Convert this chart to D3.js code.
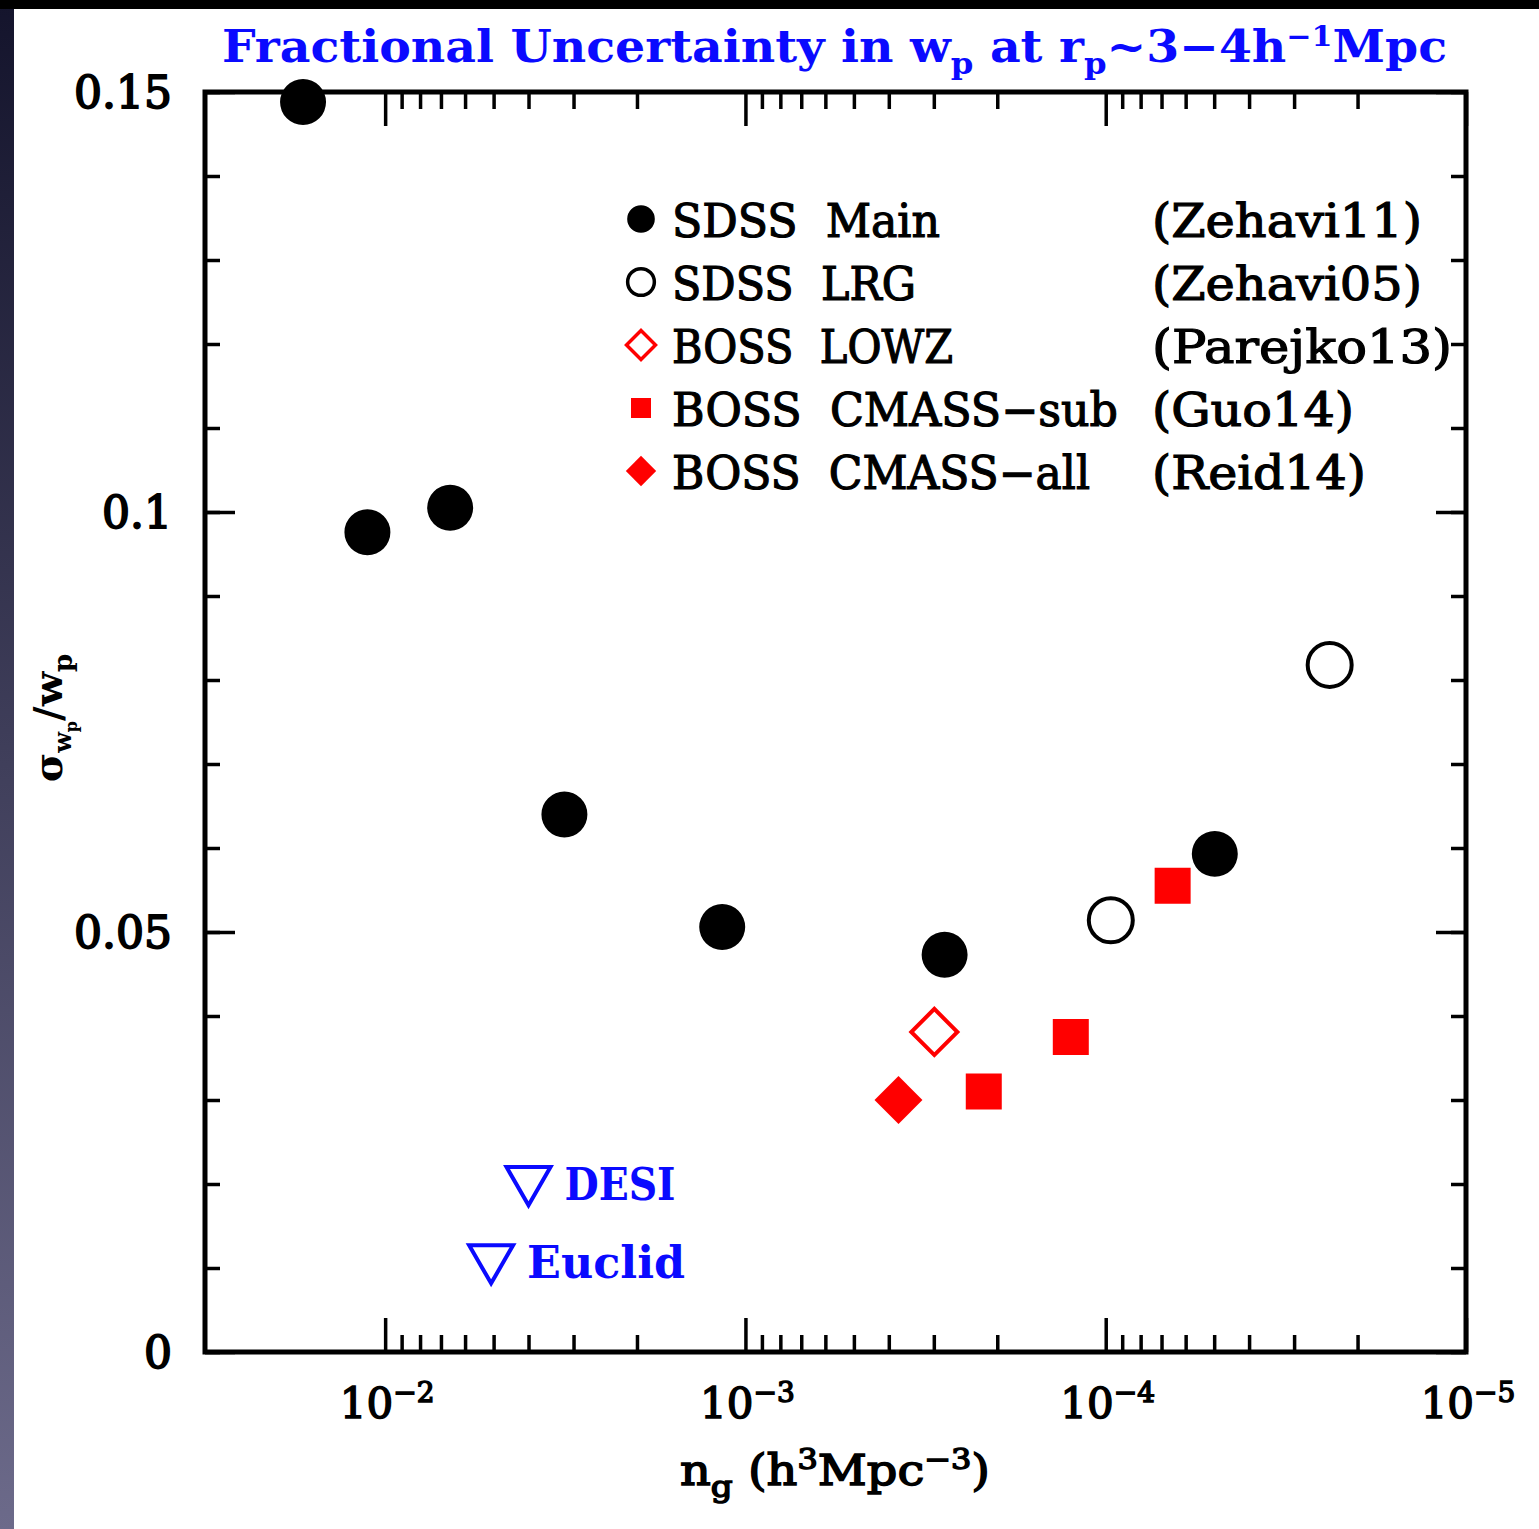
<!DOCTYPE html>
<html>
<head>
<meta charset="utf-8">
<script src="https://cdn.jsdelivr.net/npm/d3@7"></script>
<style>
  body { margin: 0; background: #fff; }
  svg { display: block; }
  text { font-family: "DejaVu Serif", serif; }
</style>
</head>
<body>
<svg id="chart" width="1539" height="1529"></svg>
<script>
// ---- data ----
var mainN   = [0.0169, 0.0112, 0.0066, 0.00318, 0.00116, 2.80e-4, 4.98e-5];
var mainErr = [0.1488, 0.0976, 0.1005, 0.0640, 0.0506, 0.0473, 0.0593];
var lrgN    = [9.68e-5, 2.39e-5];
var lrgErr  = [0.0514, 0.0818];
var lowzN   = [2.99e-4];
var lowzErr = [0.0381];
var subN    = [2.18e-4, 1.25e-4, 6.52e-5];
var subErr  = [0.0310, 0.0375, 0.0555];
var allN    = [3.76e-4];
var allErr  = [0.0300];
var futureNames = ["DESI", "Euclid"];
var futureN     = [4.0e-3, 5.08e-3];
var futureErr   = [0.0205, 0.0112];

var legendNames = ["SDSS  Main", "SDSS  LRG", "BOSS  LOWZ", "BOSS  CMASS\u2212sub", "BOSS  CMASS\u2212all"];
var legendRefs  = ["(Zehavi11)", "(Zehavi05)", "(Parejko13)", "(Guo14)", "(Reid14)"];
var legendKinds = ["mainDot", "lrgRing", "lowzDiamond", "subSquare", "allDiamond"];

var yTicks = [0, 0.05, 0.1, 0.15];
var yMinor = d3.range(0, 0.1501, 0.01);
var xExps  = [-2, -3, -4, -5];

// text widths measured on the original (layout only)
var nameWidths   = [268, 244, 281, 446, 418];
var refWidths    = [270, 270, 300, 202, 214];
var futureWidths = [111, 158];

var RED = "#ff0000", BLUE = "#0a0aff";

var svg = d3.select("#chart");

// dark slide edges around the picture
var grad = svg.append("defs").append("linearGradient")
  .attr("id", "edge").attr("x1", 0).attr("y1", 0).attr("x2", 0).attr("y2", 1);
grad.append("stop").attr("offset", "0%").attr("stop-color", "#14142c");
grad.append("stop").attr("offset", "100%").attr("stop-color", "#6c6a8a");
svg.append("rect").attr("x", 0).attr("y", 0).attr("width", 14).attr("height", 1529).attr("fill", "url(#edge)");
svg.append("rect").attr("x", 0).attr("y", 0).attr("width", 1539).attr("height", 9).attr("fill", "#000");

// ---- scales ----
var x = d3.scaleLog().domain([Math.pow(10, -1.5), 1e-5]).range([205, 1466]);
var y = d3.scaleLinear().domain([0, 0.15]).range([1352, 92]);

var xMajor = xExps.map(function (e) { return Math.pow(10, e); });
var xMinor = [];
[-3, -4, -5].forEach(function (e) {
  for (var k = 2; k <= 9; k++) xMinor.push(k * Math.pow(10, e));
});

function ticks(axisFn, scale, values, size, tr) {
  svg.append("g").attr("transform", tr)
    .call(axisFn(scale).tickValues(values).tickSize(-size).tickFormat(""))
    .call(function (g) { g.select(".domain").remove(); })
    .selectAll("line").attr("stroke", "#000").attr("stroke-width", 3.5);
}
ticks(d3.axisBottom, x, xMajor, 34, "translate(0,1352)");
ticks(d3.axisBottom, x, xMinor, 17, "translate(0,1352)");
ticks(d3.axisTop, x, xMajor, 34, "translate(0,92)");
ticks(d3.axisTop, x, xMinor, 17, "translate(0,92)");
ticks(d3.axisLeft, y, yTicks, 30, "translate(205,0)");
ticks(d3.axisLeft, y, yMinor, 15, "translate(205,0)");
ticks(d3.axisRight, y, yTicks, 30, "translate(1466,0)");
ticks(d3.axisRight, y, yMinor, 15, "translate(1466,0)");

svg.append("rect").attr("x", 205).attr("y", 92).attr("width", 1261).attr("height", 1260)
  .attr("fill", "none").attr("stroke", "#000").attr("stroke-width", 5);

// tick labels
svg.append("g").selectAll("text").data(yTicks).join("text")
  .attr("x", 172).attr("y", function (d) { return y(d) + 16; })
  .attr("text-anchor", "end").attr("font-size", 44)
  .attr("stroke", "#000").attr("stroke-width", 1.8)
  .text(d3.format("~g"));

var xl = svg.append("g").selectAll("text").data(xExps).join("text")
  .attr("x", function (d) { return x(Math.pow(10, d)) + 2; }).attr("y", 1418)
  .attr("text-anchor", "middle").attr("font-size", 42)
  .attr("stroke", "#000").attr("stroke-width", 1.5);
xl.append("tspan").text("10");
xl.append("tspan").attr("dy", -16).attr("font-size", 28).text(function (d) { return "\u2212" + (-d); });

// title
var t = svg.append("text").attr("x", 222).attr("y", 62).attr("fill", BLUE)
  .attr("font-size", 44).attr("font-weight", "bold")
  .attr("textLength", 1225).attr("lengthAdjust", "spacingAndGlyphs");
t.append("tspan").text("Fractional Uncertainty in w");
t.append("tspan").attr("dy", 12).attr("font-size", 30).text("p");
t.append("tspan").attr("dy", -12).text(" at r");
t.append("tspan").attr("dy", 12).attr("font-size", 30).text("p");
t.append("tspan").attr("dy", -12).text("~3\u22124h");
t.append("tspan").attr("dy", -16).attr("font-size", 28).text("\u22121");
t.append("tspan").attr("dy", 16).text("Mpc");

// axis labels
var xt = svg.append("text").attr("x", 835).attr("y", 1485).attr("text-anchor", "middle")
  .attr("font-size", 42).attr("stroke", "#000").attr("stroke-width", 1.5)
  .attr("textLength", 310).attr("lengthAdjust", "spacingAndGlyphs");
xt.append("tspan").text("n");
xt.append("tspan").attr("dy", 12).attr("font-size", 30).text("g");
xt.append("tspan").attr("dy", -12).text(" (h");
xt.append("tspan").attr("dy", -16).attr("font-size", 28).text("3");
xt.append("tspan").attr("dy", 16).text("Mpc");
xt.append("tspan").attr("dy", -16).attr("font-size", 28).text("\u22123");
xt.append("tspan").attr("dy", 16).text(")");

var yt = svg.append("text").attr("transform", "translate(62,718) rotate(-90)")
  .attr("text-anchor", "middle").attr("font-size", 40).attr("font-weight", "bold");
yt.append("tspan").text("\u03c3");
yt.append("tspan").attr("dy", 9).attr("font-size", 24).text("w");
yt.append("tspan").attr("dy", 6).attr("font-size", 16).text("p");
yt.append("tspan").attr("dy", -15).text("/w");
yt.append("tspan").attr("dy", 10).attr("font-size", 26).text("p");

// ---- markers ----
var sym = {
  mainDot:     { type: d3.symbolCircle,   fill: "#000", stroke: "none", rot: 0 },
  lrgRing:     { type: d3.symbolCircle,   fill: "#fff", stroke: "#000", rot: 0 },
  lowzDiamond: { type: d3.symbolSquare,   fill: "#fff", stroke: RED,    rot: 45 },
  subSquare:   { type: d3.symbolSquare,   fill: RED,    stroke: "none", rot: 0 },
  allDiamond:  { type: d3.symbolSquare,   fill: RED,    stroke: "none", rot: 45 },
  future:      { type: d3.symbolTriangle, fill: "none", stroke: BLUE,   rot: 180 }
};
var bigSize = { mainDot: 1660, lrgRing: 1520, lowzDiamond: 1060, subSquare: 1296, allDiamond: 1150, future: 838 };
var smallSize = { mainDot: 600, lrgRing: 560, lowzDiamond: 420, subSquare: 400, allDiamond: 460 };

function plot(kind, ns, errs, size) {
  var s = sym[kind];
  svg.append("g").selectAll("path").data(ns).join("path")
    .attr("d", d3.symbol().type(s.type).size(size))
    .attr("transform", function (d, i) {
      return "translate(" + x(d) + "," + y(errs[i]) + ") rotate(" + s.rot + ")";
    })
    .attr("fill", s.fill).attr("stroke", s.stroke).attr("stroke-width", 4);
}
plot("mainDot", mainN, mainErr, bigSize.mainDot);
plot("lrgRing", lrgN, lrgErr, bigSize.lrgRing);
plot("lowzDiamond", lowzN, lowzErr, bigSize.lowzDiamond);
plot("subSquare", subN, subErr, bigSize.subSquare);
plot("allDiamond", allN, allErr, bigSize.allDiamond);
plot("future", futureN, futureErr, bigSize.future);

svg.append("g").selectAll("text").data(futureNames).join("text")
  .attr("x", function (d, i) { return x(futureN[i]) + 36; })
  .attr("y", function (d, i) { return y(futureErr[i]) + 20; })
  .attr("fill", BLUE).attr("font-size", 45).attr("font-weight", "bold")
  .attr("textLength", function (d, i) { return futureWidths[i]; })
  .attr("lengthAdjust", "spacingAndGlyphs")
  .text(function (d) { return d; });

// ---- legend ----
var leg = svg.append("g").selectAll("g").data(legendNames).join("g")
  .attr("transform", function (d, i) { return "translate(0," + (219 + i * 63) + ")"; });
leg.append("path")
  .attr("d", function (d, i) { return d3.symbol().type(sym[legendKinds[i]].type).size(smallSize[legendKinds[i]])(); })
  .attr("transform", function (d, i) { return "translate(641,0) rotate(" + sym[legendKinds[i]].rot + ")"; })
  .attr("fill", function (d, i) { return sym[legendKinds[i]].fill; })
  .attr("stroke", function (d, i) { return sym[legendKinds[i]].stroke; })
  .attr("stroke-width", 3.5);
leg.append("text").attr("x", 672).attr("y", 18).attr("font-size", 46)
  .attr("stroke", "#000").attr("stroke-width", 1.2)
  .attr("textLength", function (d, i) { return nameWidths[i]; })
  .attr("lengthAdjust", "spacingAndGlyphs")
  .style("white-space", "pre").text(function (d) { return d; });
leg.append("text").attr("x", 1152).attr("y", 18).attr("font-size", 46)
  .attr("stroke", "#000").attr("stroke-width", 1.2)
  .attr("textLength", function (d, i) { return refWidths[i]; })
  .attr("lengthAdjust", "spacingAndGlyphs")
  .text(function (d, i) { return legendRefs[i]; });
</script>
</body>
</html>
